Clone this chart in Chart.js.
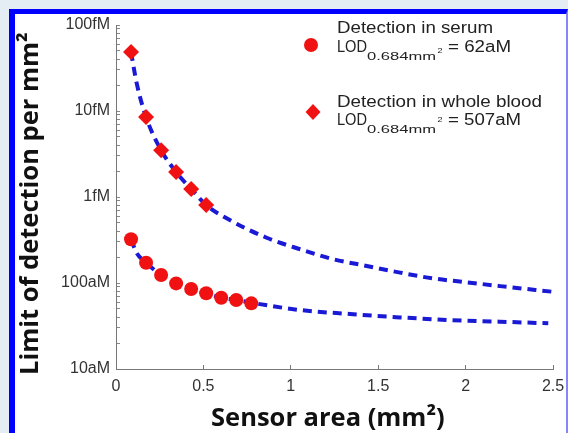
<!DOCTYPE html>
<html lang="en">
<head>
<meta charset="UTF-8">
<title>Limit of detection vs sensor area</title>
<style>
  html, body { margin: 0; padding: 0; }
  body { width: 568px; height: 433px; overflow: hidden; background: #e4ecf4; position: relative; }
  .frame { position: absolute; left: 9px; top: 9px; width: 551px; height: 440px; background: #fff;
           border-left: 6px solid #0000ff; border-top: 5px solid #0000ff; border-right: 2px solid #8585ff; }
  .chart-box { position: absolute; left: 0; top: 0; width: 568px; height: 433px; }
</style>
</head>
<body>
<div class="frame"></div>
<div class="chart-box"><canvas id="lodChart" width="568" height="433"></canvas></div>

<script src="https://cdn.jsdelivr.net/npm/chart.js"></script>
<script>
// sensor area (mm^2) and LOD (aM) for the measured points
const serumArea = [0.086, 0.172, 0.258, 0.344, 0.43, 0.516, 0.602, 0.688, 0.774];
const serumLod  = [322, 172, 124, 99, 85, 76, 67.5, 63.4, 58];
const bloodArea = [0.086, 0.172, 0.258, 0.344, 0.43, 0.516];
const bloodLod  = [48500, 8500, 3500, 1950, 1240, 807];

// dashed fit curves
const serumFitArea = [0.086, 0.118, 0.172, 0.258, 0.344, 0.43, 0.516, 0.602, 0.688, 0.774, 1.053, 1.339, 1.625, 1.911, 2.197, 2.473];
const serumFitLod  = [322, 224, 172, 124, 99, 85, 76, 67.5, 63.4, 59, 48.5, 43.6, 39.8, 37.1, 35.5, 34];
const bloodFitArea = [0.086, 0.118, 0.172, 0.258, 0.344, 0.43, 0.516, 0.633, 0.862, 1.053, 1.243, 1.434, 1.625, 1.815, 2.006, 2.197, 2.5];
const bloodFitLod  = [48500, 21200, 8500, 3500, 1950, 1240, 807, 565, 336, 247, 189, 158, 132, 113, 102, 92, 79];

// axes
const xTicks = [0, 0.5, 1, 1.5, 2, 2.5];
const yTickValues = [10, 100, 1000, 10000, 100000];
const yTickLabels = ['10aM', '100aM', '1fM', '10fM', '100fM'];

const pts = (xs, ys) => xs.map((x, i) => ({ x: x, y: ys[i] }));

const RED = '#f01212';
const BLUE = '#1a1ad6';
const TEXT_FONT = '"Liberation Sans", Arial, sans-serif';
const TITLE_FONT = { family: '"Open Sans", sans-serif', size: 25.5, weight: 'bold', lineHeight: 1.1 };

// draws text squeezed/stretched to a given width (the source figure is stretched)
function drawFit(ctx, text, x, y, size, width) {
    ctx.save();
    ctx.font = size + 'px ' + TEXT_FONT;
    const w = ctx.measureText(text).width;
    ctx.translate(x, y);
    ctx.scale(width / w, 1);
    ctx.fillText(text, 0, 0);
    ctx.restore();
}

const legendPlugin = {
    id: 'lodLegend',
    afterDraw(chart) {
        const ctx = chart.ctx;
        ctx.save();
        // markers
        ctx.fillStyle = RED;
        ctx.beginPath();
        ctx.arc(311, 45, 7, 0, Math.PI * 2);
        ctx.fill();
        ctx.beginPath();
        ctx.moveTo(313, 104); ctx.lineTo(320.5, 112); ctx.lineTo(313, 120); ctx.lineTo(305.5, 112);
        ctx.closePath();
        ctx.fill();

        ctx.fillStyle = '#222';
        ctx.textBaseline = 'alphabetic';
        ctx.textAlign = 'left';
        drawFit(ctx, 'Detection in serum', 337, 32.5, 16, 156);
        drawFit(ctx, 'LOD', 337, 51.5, 16, 30);
        drawFit(ctx, '0.684mm', 367, 59.5, 10, 69);
        drawFit(ctx, '2', 437.5, 53, 8, 5);
        drawFit(ctx, '= 62aM', 448, 51.5, 16, 63);

        drawFit(ctx, 'Detection in whole blood', 337, 106.5, 16, 205);
        drawFit(ctx, 'LOD', 337, 124.5, 16, 30);
        drawFit(ctx, '0.684mm', 367, 132.5, 10, 69);
        drawFit(ctx, '2', 437.5, 121.5, 8, 5);
        drawFit(ctx, '= 507aM', 448, 124.5, 16, 73);
        ctx.restore();
    }
};

new Chart(document.getElementById('lodChart'), {
    type: 'scatter',
    data: {
        datasets: [
            { label: 'Detection in serum', data: pts(serumArea, serumLod), pointStyle: 'circle',
              pointRadius: 7, backgroundColor: RED, borderColor: RED, borderWidth: 0, order: 0 },
            { label: 'Detection in whole blood', data: pts(bloodArea, bloodLod), pointStyle: 'rectRot',
              pointRadius: 8, backgroundColor: RED, borderColor: RED, borderWidth: 0, order: 0 },
            { label: 'serum fit', data: pts(serumFitArea, serumFitLod), showLine: true, pointRadius: 0,
              borderColor: BLUE, borderWidth: 4, borderDash: [9, 6], cubicInterpolationMode: 'monotone', order: 1 },
            { label: 'blood fit', data: pts(bloodFitArea, bloodFitLod), showLine: true, pointRadius: 0,
              borderColor: BLUE, borderWidth: 4, borderDash: [9, 6], cubicInterpolationMode: 'monotone', order: 1 }
        ]
    },
    options: {
        responsive: false,
        animation: false,
        layout: { padding: { top: 25, right: 15, bottom: 0, left: 0 } },
        plugins: { legend: { display: false }, tooltip: { enabled: false } },
        scales: {
            x: {
                type: 'linear', min: 0, max: 2.5,
                afterFit(scale) {
                    scale.height = 64;
                    scale.paddingLeft = 5;
                    scale.paddingRight = 11;
                },
                afterBuildTicks(scale) { scale.ticks = xTicks.map(v => ({ value: v })); },
                grid: { drawOnChartArea: false, tickLength: -4, tickColor: '#777' },
                border: { color: '#777', width: 1 },
                ticks: { color: '#333', padding: 12, font: { family: TEXT_FONT, size: 16 },
                         callback: v => String(v) },
                title: { display: true, text: 'Sensor area (mm\u00B2)  ', color: '#111',
                         padding: { top: 0, bottom: 0 }, font: TITLE_FONT }
            },
            y: {
                type: 'logarithmic', min: 10, max: 100000,
                afterFit(scale) { scale.width = 116; },
                afterBuildTicks(scale) {
                    const t = [];
                    yTickValues.forEach((d, i) => {
                        if (i === yTickValues.length - 1) { t.push({ value: d }); return; }
                        for (let k = 1; k < 10; k++) t.push({ value: d * k });
                    });
                    scale.ticks = t;
                },
                grid: { drawOnChartArea: false, tickLength: -4, tickColor: '#888' },
                border: { color: '#777', width: 1 },
                ticks: { color: '#333', padding: 10, autoSkip: false, font: { family: TEXT_FONT, size: 16 },
                         callback: v => { const i = yTickValues.indexOf(v); return i >= 0 ? yTickLabels[i] : ''; } },
                title: { display: true, text: 'Limit of detection per mm\u00B2  ', color: '#111',
                         padding: { top: 17, bottom: 0 }, font: TITLE_FONT }
            }
        }
    },
    plugins: [legendPlugin]
});
</script>
</body>
</html>
